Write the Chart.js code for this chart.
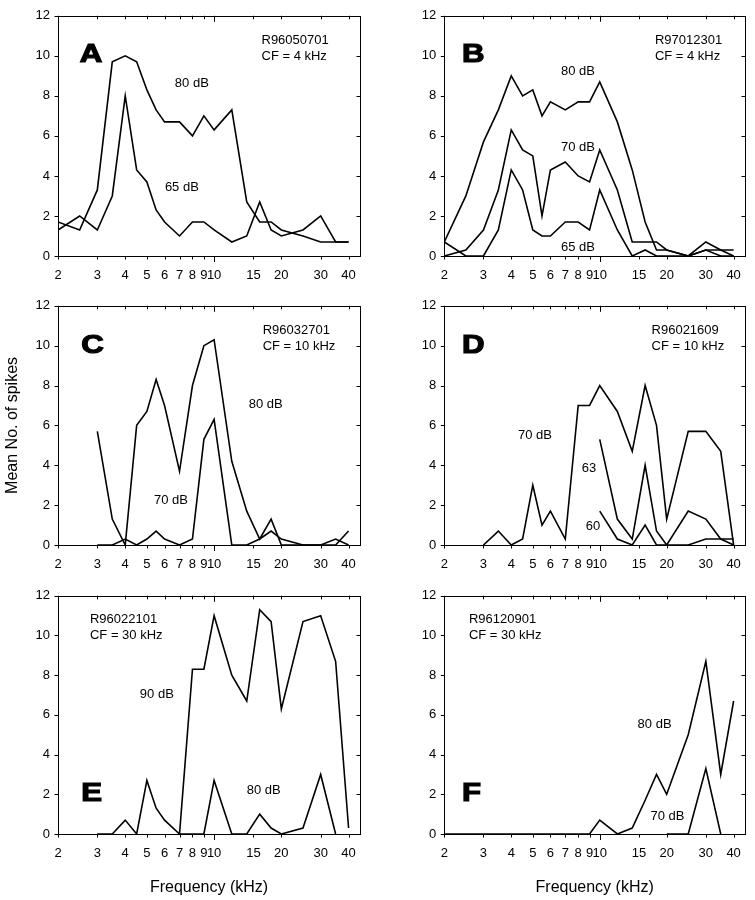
<!DOCTYPE html>
<html>
<head>
<meta charset="utf-8">
<script src="https://cdn.jsdelivr.net/npm/chart.js@4.4.1/dist/chart.umd.min.js"></script>
<style>
  body { margin: 0; background: #fff; }
  #fig { position: relative; width: 755px; height: 900px; }
  #fig canvas { position: absolute; }
</style>
</head>
<body>
<div id="fig">
  <canvas id="panelA"></canvas>
  <canvas id="panelB"></canvas>
  <canvas id="panelC"></canvas>
  <canvas id="panelD"></canvas>
  <canvas id="panelE"></canvas>
  <canvas id="panelF"></canvas>
</div>
<script>
// frequencies (kHz) tested, shared by every curve
const FREQS = [2, 2.5, 3, 3.5, 4, 4.5, 5, 5.5, 6, 7, 8, 9, 10, 12, 14, 16, 18, 20, 25, 30, 35, 40];
const TICK_FREQS = [2, 3, 4, 5, 6, 7, 8, 9, 10, 15, 20, 30, 40];

// mean no. of spikes, one value per frequency (null = not measured)
const a80 = [1.7, 1.3, 3.3, 9.7, 10.0, 9.7, 8.3, 7.3, 6.7, 6.7, 6.0, 7.0, 6.3, 7.3, 2.7, 1.7, 1.7, 1.3, 1.0, 0.7, 0.7, 0.7];
const a65 = [1.3, 2.0, 1.3, 3.0, 8.0, 4.3, 3.7, 2.3, 1.7, 1.0, 1.7, 1.7, 1.3, 0.7, 1.0, 2.7, 1.3, 1.0, 1.3, 2.0, 0.7, 0.7];

const b80 = [0.7, 3.0, 5.7, 7.3, 9.0, 8.0, 8.3, 7.0, 7.7, 7.3, 7.7, 7.7, 8.7, 6.7, 4.3, 1.7, 0.3, 0.3, 0, 0.3, 0.3, 0.3];
const b70 = [0, 0.3, 1.3, 3.3, 6.3, 5.3, 5.0, 2.0, 4.3, 4.7, 4.0, 3.7, 5.3, 3.3, 0.7, 0.7, 0.7, 0.3, 0, 0.7, 0.3, 0];
const b65 = [0.7, 0, 0, 1.3, 4.3, 3.3, 1.3, 1.0, 1.0, 1.7, 1.7, 1.3, 3.3, 1.3, 0, 0.3, 0, 0, 0, 0.3, 0, 0];

const c80 = [null, null, 5.7, 1.3, 0, 6.0, 6.7, 8.3, 7.0, 3.7, 8.0, 10.0, 10.3, 4.2, 1.7, 0.3, 1.3, 0, 0, 0, 0, 0.7];
const c70 = [null, null, 0, 0, 0.3, 0, 0.3, 0.7, 0.3, 0, 0.3, 5.3, 6.3, 0, 0, 0.3, 0.7, 0.3, 0, 0, 0.3, 0];

const d70 = [null, null, 0, 0.7, 0, 0.3, 3.0, 1.0, 1.7, 0.3, 7.0, 7.0, 8.0, 6.7, 4.7, 8.0, 6.0, 1.3, 5.7, 5.7, 4.7, 0];
const d63 = [null, null, null, null, null, null, null, null, null, null, null, null, 5.3, 1.3, 0.3, 4.0, 0.7, 0, 1.7, 1.3, 0.3, 0];
const d60 = [null, null, null, null, null, null, null, null, null, null, null, null, 1.7, 0.3, 0, 1.0, 0, 0, 0, 0.3, 0.3, 0.3];

const e90 = [null, null, 0, 0, 0.7, 0, 2.7, 1.3, 0.7, 0, 8.3, 8.3, 11.0, 8.0, 6.7, 11.3, 10.7, 6.3, 10.7, 11.0, 8.7, 0.3];
const e80 = [null, null, null, null, null, null, null, null, null, 0, 0, 0, 2.7, 0, 0, 1.0, 0.3, 0, 0.3, 3.0, 0, null];

const f80 = [0, 0, 0, 0, 0, 0, 0, 0, 0, 0, 0, 0, 0.7, 0, 0.3, 1.7, 3.0, 2.0, 5.0, 8.7, 3.0, 6.7];
const f70 = [null, null, null, null, null, null, null, null, null, null, null, null, null, null, null, null, null, 0, 0, 3.3, 0, null];

const FONT = '"Liberation Sans", Arial, Helvetica, sans-serif';

function toPoints(vals) {
    return FREQS.map((f, i) => ({ x: f, y: vals[i] })).filter(p => p.y !== null);
}

// panel layout: canvas box + chart area offsets
const panels = [
    { id: 'panelA', left: 0,   top: 0,   w: 378, h: 290, yW: 58,   padTop: 15, padRight: 18, xH: 34,
      series: [a80, a65], letter: ['A', 2.5, 10.1], unit: ['R96050701', 'CF = 4 kHz', 16.3, 10.76],
      notes: [['80 dB', 6.67, 8.62], ['65 dB', 6.02, 3.44]] },
    { id: 'panelB', left: 378, top: 0,   w: 377, h: 290, yW: 66.3, padTop: 15, padRight: 10, xH: 34,
      series: [b80, b70, b65], letter: ['B', 2.4, 10.1], unit: ['R97012301', 'CF = 4 kHz', 17.7, 10.76],
      notes: [['80 dB', 6.69, 9.21], ['70 dB', 6.69, 5.43], ['65 dB', 6.69, 0.45]] },
    { id: 'panelC', left: 0,   top: 290, w: 378, h: 290, yW: 58,   padTop: 14, padRight: 18, xH: 35,
      series: [c80, c70], letter: ['C', 2.54, 10.06], unit: ['R96032701', 'CF = 10 kHz', 16.5, 10.76],
      notes: [['80 dB', 14.3, 7.07], ['70 dB', 5.38, 2.24]], yTitle: true },
    { id: 'panelD', left: 378, top: 290, w: 377, h: 290, yW: 66.3, padTop: 14, padRight: 10, xH: 35,
      series: [d70, d63, d60], letter: ['D', 2.4, 10.06], unit: ['R96021609', 'CF = 10 kHz', 17.1, 10.76],
      notes: [['70 dB', 4.29, 5.48], ['63', 8.3, 3.83], ['60', 8.65, 0.95]] },
    { id: 'panelE', left: 0,   top: 580, w: 378, h: 320, yW: 58,   padTop: 13, padRight: 18, xH: 66,
      series: [e90, e80], letter: ['E', 2.54, 2.09], unit: ['R96022101', 'CF = 30 kHz', 2.78, 10.8],
      notes: [['90 dB', 4.65, 7.02], ['80 dB', 14.0, 2.19]], xTitle: true },
    { id: 'panelF', left: 378, top: 580, w: 377, h: 320, yW: 66.3, padTop: 13, padRight: 10, xH: 66,
      series: [f80, f70], letter: ['F', 2.4, 2.09], unit: ['R96120901', 'CF = 30 kHz', 2.58, 10.8],
      notes: [['80 dB', 14.8, 5.53], ['70 dB', 16.9, 0.9]], xTitle: true }
];

// frame, inner/outer ticks and panel texts
const framePlugin = {
    id: 'frame',
    afterDraw(chart, args, opts) {
        const p = opts.panel;
        const ctx = chart.ctx;
        const a = chart.chartArea;
        const xs = chart.scales.x, ys = chart.scales.y;
        ctx.save();
        ctx.strokeStyle = '#000';
        ctx.lineWidth = 1;
        ctx.beginPath();
        TICK_FREQS.forEach(f => {
            const px = Math.round(xs.getPixelForValue(f)) + 0.5;
            const len = f === 10 ? 6 : 3.5;
            ctx.moveTo(px, a.bottom); ctx.lineTo(px, a.bottom + len);
            ctx.moveTo(px, a.top); ctx.lineTo(px, a.top + len);
        });
        ys.ticks.forEach(t => {
            const py = Math.round(ys.getPixelForValue(t.value)) + 0.5;
            ctx.moveTo(a.left - 3.5, py); ctx.lineTo(a.left, py);
            ctx.moveTo(a.right, py); ctx.lineTo(a.right - 3.5, py);
        });
        ctx.stroke();
        ctx.strokeRect(Math.round(a.left) + 0.5, Math.round(a.top) + 0.5,
            Math.round(a.right - a.left), Math.round(a.bottom - a.top));

        ctx.fillStyle = '#000';
        ctx.textBaseline = 'middle';
        ctx.textAlign = 'left';

        // big panel letter, wide heavy face
        const [ch, lx, ly] = p.letter;
        ctx.save();
        ctx.translate(xs.getPixelForValue(lx), ys.getPixelForValue(ly));
        ctx.scale(1.2, 1);
        ctx.font = 'bold 26px ' + FONT;
        ctx.lineWidth = 1.2;
        ctx.fillText(ch, 0, 1);
        ctx.strokeText(ch, 0, 1);
        ctx.restore();

        ctx.font = '13px ' + FONT;
        const [u1, u2, ux, uy] = p.unit;
        const upx = xs.getPixelForValue(ux), upy = ys.getPixelForValue(uy);
        ctx.fillText(u1, upx, upy);
        ctx.fillText(u2, upx, upy + 16);

        p.notes.forEach(([txt, fx, fy]) => {
            ctx.fillText(txt, xs.getPixelForValue(fx), ys.getPixelForValue(fy));
        });
        ctx.restore();
    }
};

panels.forEach(p => {
    const canvas = document.getElementById(p.id);
    canvas.width = p.w;
    canvas.height = p.h;
    canvas.style.left = p.left + 'px';
    canvas.style.top = p.top + 'px';

    new Chart(canvas.getContext('2d'), {
        type: 'line',
        data: {
            datasets: p.series.map(vals => ({
                data: toPoints(vals),
                borderColor: '#000',
                borderWidth: 1.6,
                pointRadius: 0,
                tension: 0,
                fill: false
            }))
        },
        options: {
            responsive: false,
            animation: false,
            events: [],
            layout: { padding: { top: p.padTop, right: p.padRight, left: 0, bottom: 0 } },
            plugins: {
                legend: { display: false },
                tooltip: { enabled: false },
                frame: { panel: p }
            },
            scales: {
                x: {
                    type: 'logarithmic',
                    min: 2,
                    max: 45,
                    afterBuildTicks: s => { s.ticks = TICK_FREQS.map(v => ({ value: v })); },
                    afterFit: s => { s.height = p.xH; },
                    grid: { display: false, drawTicks: false },
                    border: { display: false },
                    ticks: {
                        autoSkip: false,
                        maxRotation: 0,
                        minRotation: 0,
                        padding: 12,
                        color: '#000',
                        font: { family: FONT, size: 13 },
                        callback: v => String(v)
                    },
                    title: {
                        display: !!p.xTitle,
                        text: 'Frequency (kHz)',
                        color: '#000',
                        font: { family: FONT, size: 16 },
                        padding: { top: 0, bottom: 3 }
                    }
                },
                y: {
                    min: 0,
                    max: 12,
                    afterFit: s => { s.width = p.yW; },
                    grid: { display: false, drawTicks: false },
                    border: { display: false },
                    ticks: {
                        stepSize: 2,
                        padding: 8,
                        color: '#000',
                        font: { family: FONT, size: 13 }
                    },
                    title: {
                        display: !!p.yTitle,
                        text: 'Mean No. of spikes',
                        color: '#000',
                        font: { family: FONT, size: 16 },
                        padding: { top: 3, bottom: 0 }
                    }
                }
            }
        },
        plugins: [framePlugin]
    });
});
</script>
</body>
</html>
